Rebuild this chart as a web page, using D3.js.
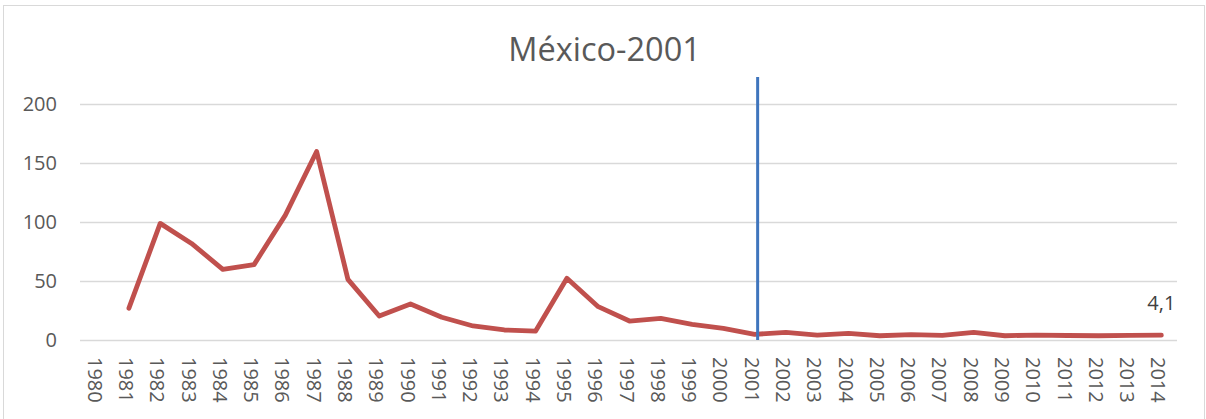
<!DOCTYPE html>
<html>
<head>
<meta charset="utf-8">
<script src="https://cdn.jsdelivr.net/npm/d3@7"></script>
<style>
  html, body { margin: 0; padding: 0; background: #fff; }
  svg { display: block; font-family: "Open Sans", sans-serif; }
</style>
</head>
<body>
<svg id="chart" width="1206" height="419"></svg>
<script>
// Annual series for Mexico, 1980–2014 (1980 has no value)
const years = [
  "1980","1981","1982","1983","1984","1985","1986","1987","1988","1989",
  "1990","1991","1992","1993","1994","1995","1996","1997","1998","1999",
  "2000","2001","2002","2003","2004","2005","2006","2007","2008","2009",
  "2010","2011","2012","2013","2014"
];
const values = [
  null, 27.0, 99.0, 82.0, 60.0, 64.0, 106.0, 160.0, 51.5, 20.4,
  30.6, 19.3, 11.9, 8.5, 7.6, 52.4, 28.3, 16.1, 18.4, 13.3,
  9.9, 4.8, 6.5, 4.2, 5.7, 3.6, 4.5, 4.0, 6.5, 3.6,
  4.2, 3.8, 3.6, 3.9, 4.1
];
const yTicks = [0, 50, 100, 150, 200];
const markerYear = "2001";
const chartTitle = "México-2001";
const lastLabel = "4,1";

const svg = d3.select("#chart");

// chart frame
svg.append("rect")
  .attr("x", 3.5).attr("y", 5.5)
  .attr("width", 1201).attr("height", 420)
  .attr("fill", "#fff").attr("stroke", "#d9d9d9").attr("stroke-width", 1);

const plot = { left: 80, right: 1177, top: 104.4, bottom: 340 };

const x = d3.scaleBand().domain(years).range([82, 1177]);
const y = d3.scaleLinear().domain([0, 200]).range([plot.bottom, plot.top]);
const cx = d => x(d) + x.bandwidth() / 2;

// horizontal gridlines
svg.append("g").selectAll("line").data(yTicks).join("line")
  .attr("x1", plot.left).attr("x2", plot.right)
  .attr("y1", d => Math.round(y(d)) + 0.5).attr("y2", d => Math.round(y(d)) + 0.5)
  .attr("stroke", "#d9d9d9").attr("stroke-width", 1.3);

// y-axis labels
svg.append("g").selectAll("text").data(yTicks).join("text")
  .attr("x", 57).attr("y", d => y(d))
  .attr("dy", "0.35em")
  .attr("text-anchor", "end")
  .attr("font-size", 20).attr("fill", "#595959")
  .text(d => d);

// x-axis labels, rotated to read downward
svg.append("g").selectAll("text").data(years).join("text")
  .attr("transform", d => `translate(${cx(d) - 3},357) rotate(90)`)
  .attr("dy", "0.35em")
  .attr("text-anchor", "start")
  .attr("font-size", 20).attr("fill", "#595959")
  .text(d => d);

// data line
const series = years.map((yr, i) => ({ yr, v: values[i] }));
const line = d3.line()
  .defined(d => d.v != null)
  .x(d => cx(d.yr))
  .y(d => y(d.v));
svg.append("path")
  .datum(series)
  .attr("d", line)
  .attr("fill", "none")
  .attr("stroke", "#c0504d")
  .attr("stroke-width", 4.8)
  .attr("stroke-linejoin", "round")
  .attr("stroke-linecap", "round");

// vertical marker at the reference year
svg.append("line")
  .attr("x1", cx(markerYear) + 3).attr("x2", cx(markerYear) + 3)
  .attr("y1", 77).attr("y2", y(0))
  .attr("stroke", "#3f75bd").attr("stroke-width", 3);

// value label on the last point
const last = series[series.length - 1];
svg.append("text")
  .attr("x", cx(last.yr)).attr("y", y(last.v) - 25)
  .attr("text-anchor", "middle")
  .attr("font-size", 20).attr("fill", "#404040")
  .text(lastLabel);

// title
svg.append("text")
  .attr("x", 604.5).attr("y", 60.5)
  .attr("text-anchor", "middle")
  .attr("font-size", 32.5).attr("fill", "#595959")
  .text(chartTitle);
</script>
</body>
</html>
